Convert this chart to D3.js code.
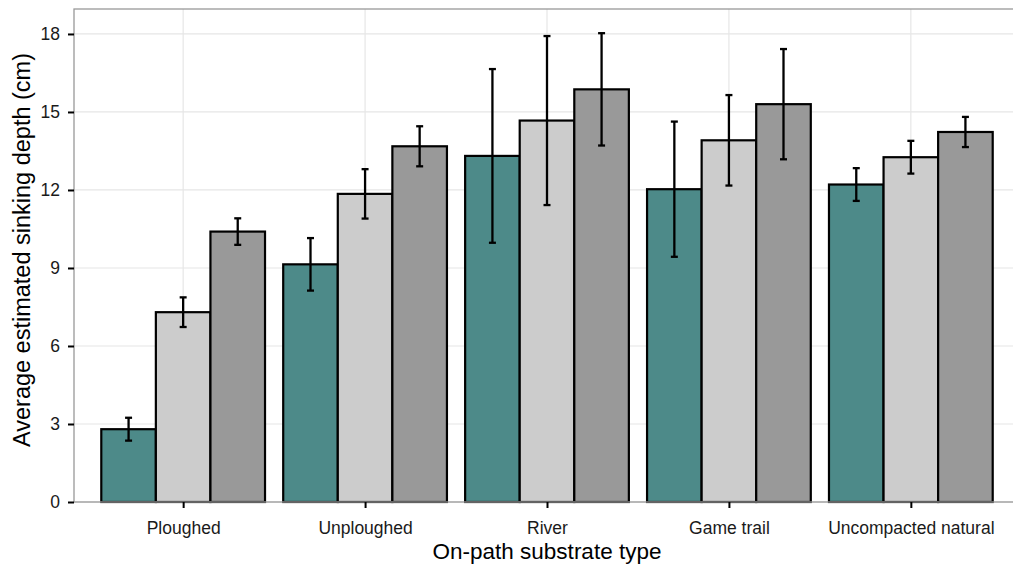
<!DOCTYPE html>
<html>
<head>
<meta charset="utf-8">
<script src="https://cdn.jsdelivr.net/npm/d3@7/dist/d3.min.js"></script>
<style>
  html, body { margin: 0; padding: 0; background: #fff; }
  svg { display: block; font-family: "Liberation Sans", Arial, sans-serif; }
</style>
</head>
<body>
<svg id="chart" width="1013" height="569"></svg>
<script>
const categories = ["Ploughed", "Unploughed", "River", "Game trail", "Uncompacted natural"];
const groups = ["g1", "g2", "g3"];
const means1 = [2.80, 9.14, 13.31, 12.03, 12.21];
const means2 = [7.30, 11.85, 14.67, 13.91, 13.26];
const means3 = [10.40, 13.68, 15.87, 15.30, 14.23];
const err1 = [0.44, 1.01, 3.34, 2.60, 0.63];
const err2 = [0.57, 0.95, 3.25, 1.74, 0.63];
const err3 = [0.51, 0.77, 2.16, 2.12, 0.58];
const yTicks = [0, 3, 6, 9, 12, 15, 18];
const colors = ["#4d8a89", "#cccccc", "#999999"];

(function () {
const means = [means1, means2, means3];
const errs = [err1, err2, err3];
const data = [];
categories.forEach((c, i) => {
  groups.forEach((g, j) => {
    data.push({ cat: c, grp: g, j: j, mean: means[j][i], err: errs[j][i] });
  });
});

const svg = d3.select("#chart");
const pL = 74, pR = 1020, pT = 9, pB = 502;

// ggplot discrete scale: positions 1..5, expanded by 0.6 on each side
const xpos = d3.scaleLinear().domain([0.4, 5.6]).range([pL, pR]);
const y = d3.scaleLinear().domain([0, 18.96]).range([pB, pT]);
const dodge = 0.9, barW = dodge / 3;

svg.append("rect").attr("x", pL).attr("y", pT)
  .attr("width", pR - pL).attr("height", pB - pT).attr("fill", "#fff");

// gridlines
svg.append("g").selectAll("line").data(yTicks).join("line")
  .attr("x1", pL).attr("x2", pR)
  .attr("y1", d => y(d)).attr("y2", d => y(d))
  .attr("stroke", "#e6e6e6").attr("stroke-width", 1.2);
svg.append("g").selectAll("line").data(categories).join("line")
  .attr("x1", (d, i) => xpos(i + 1)).attr("x2", (d, i) => xpos(i + 1))
  .attr("y1", pT).attr("y2", pB)
  .attr("stroke", "#e6e6e6").attr("stroke-width", 1.2);

// bars
const bx = d => xpos(categories.indexOf(d.cat) + 1 - dodge / 2 + d.j * barW);
svg.append("g").selectAll("rect").data(data).join("rect")
  .attr("x", bx)
  .attr("width", xpos(barW) - xpos(0))
  .attr("y", d => y(d.mean))
  .attr("height", d => y(0) - y(d.mean))
  .attr("fill", d => colors[d.j])
  .attr("stroke", "#000").attr("stroke-width", 2.2);

// error bars
const cx = d => xpos(categories.indexOf(d.cat) + 1 - dodge / 2 + (d.j + 0.5) * barW);
const capW = 3.5;
const eb = svg.append("g").attr("stroke", "#000").attr("stroke-width", 2.3);
eb.append("g").selectAll("line").data(data).join("line")
  .attr("x1", cx).attr("x2", cx)
  .attr("y1", d => y(d.mean + d.err)).attr("y2", d => y(d.mean - d.err));
eb.append("g").selectAll("line").data(data).join("line")
  .attr("x1", d => cx(d) - capW).attr("x2", d => cx(d) + capW)
  .attr("y1", d => y(d.mean + d.err)).attr("y2", d => y(d.mean + d.err));
eb.append("g").selectAll("line").data(data).join("line")
  .attr("x1", d => cx(d) - capW).attr("x2", d => cx(d) + capW)
  .attr("y1", d => y(d.mean - d.err)).attr("y2", d => y(d.mean - d.err));

// panel border
svg.append("rect").attr("x", pL).attr("y", pT)
  .attr("width", pR - pL).attr("height", pB - pT)
  .attr("fill", "none").attr("stroke", "#999").attr("stroke-width", 1.3);

// y axis
const yAxis = d3.axisLeft(y).tickValues(yTicks).tickSize(6).tickPadding(8).tickFormat(d3.format("d"));
const gy = svg.append("g").attr("transform", `translate(${pL},0)`).call(yAxis);
gy.select(".domain").remove();
gy.selectAll(".tick line").attr("stroke", "#000").attr("stroke-width", 2);
gy.selectAll(".tick text").attr("font-size", 17.5).attr("fill", "#1a1a1a")
  .attr("font-family", "Liberation Sans, Arial, sans-serif");

// x axis
const xPt = d3.scalePoint().domain(categories).range([xpos(1), xpos(5)]);
const xAxis = d3.axisBottom(xPt).tickSize(6);
const gx = svg.append("g").attr("transform", `translate(0,${pB})`).call(xAxis);
gx.select(".domain").remove();
gx.selectAll(".tick line").attr("stroke", "#000").attr("stroke-width", 2);
gx.selectAll(".tick text").attr("font-size", 17.5).attr("fill", "#1a1a1a")
  .attr("y", 32).attr("dy", 0)
  .attr("font-family", "Liberation Sans, Arial, sans-serif");

// titles
svg.append("text").attr("x", 547).attr("y", 559)
  .attr("text-anchor", "middle").attr("font-size", 22.5).attr("fill", "#000")
  .text("On-path substrate type");
svg.append("text")
  .attr("transform", `translate(30,250) rotate(-90)`)
  .attr("text-anchor", "middle").attr("font-size", 23.5).attr("fill", "#000")
  .text("Average estimated sinking depth (cm)");
})();
</script>
</body>
</html>
